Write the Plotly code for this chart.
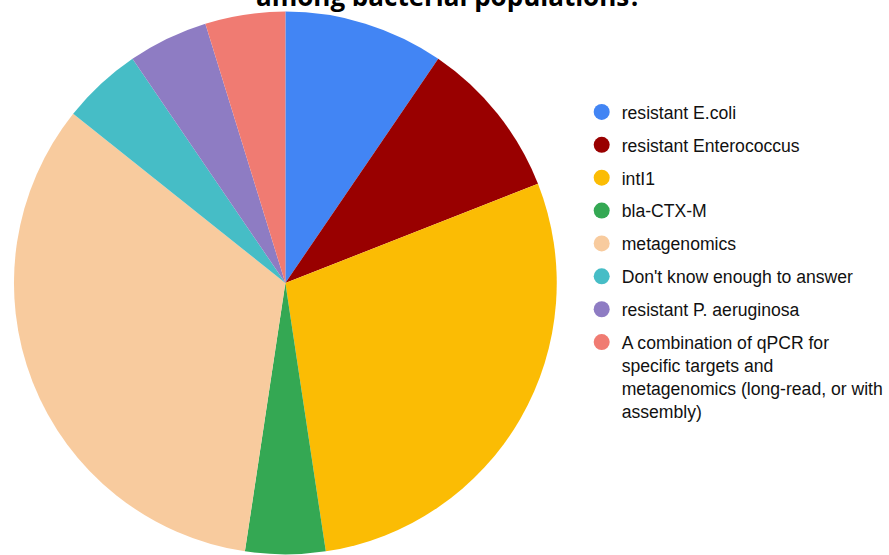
import plotly.graph_objects as go

# Survey answers and their response counts
labels = [
    "resistant E.coli",
    "resistant Enterococcus",
    "intI1",
    "bla-CTX-M",
    "metagenomics",
    "Don't know enough to answer",
    "resistant P. aeruginosa",
    "A combination of qPCR for<br>specific targets and<br>metagenomics (long-read, or with<br>assembly)",
]
counts = [2, 2, 6, 1, 7, 1, 1, 1]
colors = ["#4285F4", "#990000", "#FBBC04", "#34A853",
          "#F8CB9E", "#46BDC6", "#8E7CC3", "#F07B72"]

title_text = "among bacterial populations?"

W, H = 889, 555

fig = go.Figure()

fig.add_trace(go.Pie(
    labels=labels,
    values=counts,
    sort=False,
    direction="clockwise",
    rotation=0,
    marker=dict(colors=colors, line=dict(width=0)),
    textinfo="none",
    hoverinfo="label+value+percent",
    showlegend=False,
    domain=dict(x=[14 / W, 558 / W], y=[0, 1 - 11 / H]),
))

# Legend entries with round swatches
for i, (lab, col) in enumerate(zip(labels, colors)):
    fig.add_trace(go.Scatter(
        x=[None], y=[None], mode="markers", name=lab,
        marker=dict(symbol="circle", size=16, color=col),
        legendgroup=f"g{i}", showlegend=True, hoverinfo="skip",
    ))

fig.add_annotation(
    text=f"<b>{title_text}</b>",
    xref="paper", yref="paper", x=450 / W, y=1 + 4.5 / H,
    xanchor="center", yanchor="middle", showarrow=False,
    font=dict(family="Open Sans", size=26, color="#000000"),
)

fig.update_layout(
    width=W, height=H,
    margin=dict(l=0, r=0, t=0, b=0),
    paper_bgcolor="white", plot_bgcolor="white",
    xaxis=dict(visible=False), yaxis=dict(visible=False),
    legend=dict(
        x=583 / W, xanchor="left", y=1 - 94 / H, yanchor="top",
        font=dict(family="Liberation Sans, Arial", size=17.6, color="#111111"),
        tracegroupgap=7, valign="top", itemclick=False, itemdoubleclick=False,
        bgcolor="rgba(0,0,0,0)",
    ),
)

fig.write_html("out.html")
